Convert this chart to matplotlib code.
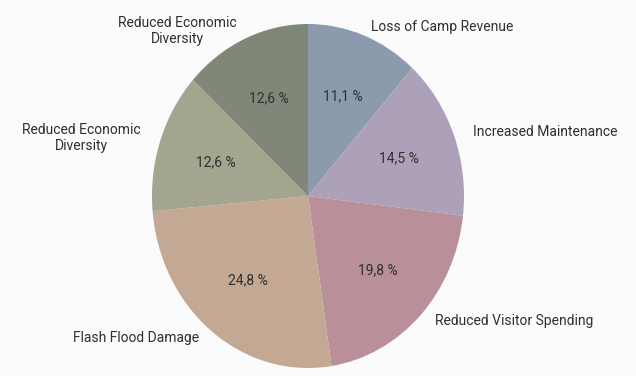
import matplotlib
matplotlib.use("Agg")
import matplotlib.pyplot as plt
import numpy as np

plt.rcParams['font.family'] = ['Roboto', 'DejaVu Sans']

categories = [
    "Loss of Camp Revenue",
    "Increased Maintenance",
    "Reduced Visitor Spending",
    "Flash Flood Damage",
    "Reduced Economic\nDiversity",
    "Reduced Economic\nDiversity",
]
shares = [11.1, 14.5, 19.8, 24.8, 12.6, 12.6]
colors = ["#8b9bad", "#ada0b9", "#b98f99", "#c3a893", "#a3a58f", "#7f8878"]

W, H = 636, 376
fig = plt.figure(figsize=(W / 100, H / 100), dpi=100)
fig.patch.set_facecolor("#fbfbfb")

cx, cy, rx, ry = 308, 196, 156, 172
ax = fig.add_axes([(cx - rx) / W, (H - cy - ry) / H, 2 * rx / W, 2 * ry / H])

wedges, _ = ax.pie(
    shares,
    colors=colors,
    startangle=90,
    counterclock=False,
    wedgeprops=dict(linewidth=0),
)
ax.set_aspect("auto")
ax.set_xlim(-1, 1)
ax.set_ylim(-1, 1)

txt = dict(fontsize=10, color="#2f2f2f")
for w, v, name in zip(wedges, shares, categories):
    mid = np.deg2rad((w.theta1 + w.theta2) / 2)
    c, s = np.cos(mid), np.sin(mid)
    # category name outside the rim
    ax.text(1.13 * c, 1.05 * s, name,
            ha="left" if c > 0 else "right", va="center",
            multialignment="center", clip_on=False, **txt)
    # value inside the wedge, written with a decimal comma
    ax.text(0.62 * c, 0.62 * s, f"{v:.1f}".replace(".", ",") + " %",
            ha="center", va="center", **txt)

fig.savefig("out.png", dpi=100, facecolor=fig.get_facecolor())
